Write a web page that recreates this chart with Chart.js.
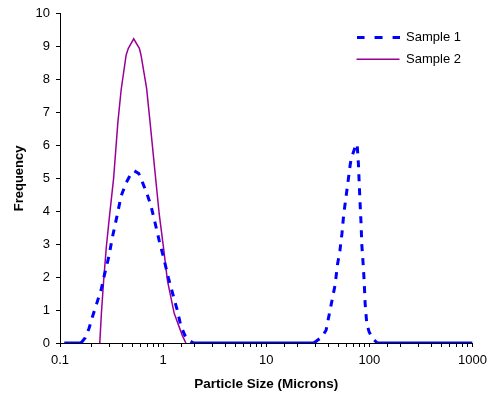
<!DOCTYPE html>
<html>
<head>
<meta charset="utf-8">
<title>Particle Size Distribution</title>
<script src="https://cdn.jsdelivr.net/npm/chart.js@4/dist/chart.umd.min.js"></script>
<style>
    html, body { margin: 0; padding: 0; background: #fff; }
    #wrap { width: 493px; height: 396px; }
</style>
</head>
<body>
<div id="wrap"><canvas id="psd-chart" width="493" height="396"></canvas></div>
<script>
// Sample 1 (dashed blue) - particle size in microns / frequency
const sizes1 = [0.11, 0.13, 0.15, 0.16, 0.175, 0.191, 0.209, 0.228, 0.252, 0.271, 0.298, 0.321,
    0.356, 0.392, 0.438, 0.48, 0.526, 0.58, 0.632, 0.691, 0.762, 0.838, 0.916, 1.02, 1.125,
    1.25, 1.37, 1.48, 1.62, 1.78, 1.95, 2.5, 5, 10, 20, 29, 31.6, 35, 38, 42.5, 46.4, 49.2,
    51.8, 54.2, 56.2, 59.2, 61.4, 65.2, 67.1, 73.8, 76, 78.3, 79.6, 81.3, 83.2, 84.3, 86.9,
    88.9, 90.9, 94.2, 99.3, 106.9, 119.4, 150, 300, 600, 1000];
const freq1 = [0, 0, 0, 0, 0.15, 0.44, 0.85, 1.22, 1.65, 2.1, 2.63, 3.19,
    3.84, 4.47, 4.87, 5.1, 5.23, 5.15, 4.87, 4.57, 4.17, 3.63, 3.11, 2.54, 1.98,
    1.45, 1.0, 0.54, 0.24, 0.09, 0, 0, 0, 0, 0, 0, 0.09, 0.2, 0.39, 1.15, 1.75, 2.41,
    2.81, 3.33, 3.87, 4.42, 4.79, 5.43, 5.63, 6.01, 6.05, 5.43, 4.87, 4.22, 3.56, 3.01, 2.41,
    1.9, 1.2, 0.6, 0.34, 0.14, 0, 0, 0, 0, 0];

// Sample 2 (solid purple)
const sizes2 = [0.243, 0.252, 0.265, 0.281, 0.303, 0.331, 0.364, 0.392, 0.438, 0.46, 0.518,
    0.588, 0.61, 0.691, 0.745, 0.832, 0.851, 0.916, 1.007, 1.1, 1.28, 1.53, 1.66];
const freq2 = [0, 0.9, 1.9, 2.9, 3.9, 5.0, 6.7, 7.7, 8.75, 8.95, 9.24,
    8.95, 8.75, 7.74, 6.74, 5.23, 4.92, 3.92, 2.91, 1.9, 0.9, 0.24, 0];

const xTickValues = [0.1, 1, 10, 100, 1000];
const seriesNames = ['Sample 1', 'Sample 2'];

const FONT = '"Liberation Sans", Arial, sans-serif';
const BLUE = '#0000ff';
const PURPLE = '#990099';

function toPoints(xs, ys) {
    return xs.map((x, i) => ({ x: x, y: ys[i] }));
}

function isDecade(v) {
    return xTickValues.some(t => Math.abs(t - v) < 1e-9);
}

// legend swatch for the dashed series (point-style legend lines ignore borderDash)
function dashedSwatch(color, width, lineWidth, dash) {
    const c = document.createElement('canvas');
    c.width = width;
    c.height = lineWidth;
    const g = c.getContext('2d');
    g.strokeStyle = color;
    g.lineWidth = lineWidth;
    g.setLineDash(dash);
    g.beginPath();
    g.moveTo(0, lineWidth / 2);
    g.lineTo(width, lineWidth / 2);
    g.stroke();
    return c;
}

// Moves the legend into the top-right corner of the plot area
const legendCorner = {
    id: 'legendCorner',
    afterLayout(chart) {
        const lg = chart.legend;
        const area = chart.chartArea;
        if (!lg) return;
        const w = lg.width, h = lg.height;
        lg.left = area.right - 125;
        lg.right = lg.left + w;
        lg.top = area.top + 8;
        lg.bottom = lg.top + h;
    }
};

const canvas = document.getElementById('psd-chart');
new Chart(canvas, {
    type: 'line',
    data: {
        datasets: [
            {
                label: seriesNames[0],
                data: toPoints(sizes1, freq1),
                borderColor: BLUE,
                backgroundColor: BLUE,
                borderWidth: 3,
                borderDash: [7, 7],
                pointRadius: 0,
                pointStyle: dashedSwatch(BLUE, 43, 3, [8, 10]),
                tension: 0,
                fill: false,
                segment: {
                    // flat runs along the axis look solid in the original
                    borderDash: ctx => (ctx.p0.parsed.y === 0 && ctx.p1.parsed.y === 0) ? [] : undefined
                }
            },
            {
                label: seriesNames[1],
                data: toPoints(sizes2, freq2),
                borderColor: PURPLE,
                backgroundColor: PURPLE,
                borderWidth: 1.5,
                pointRadius: 0,
                pointStyle: 'line',
                tension: 0,
                fill: false
            }
        ]
    },
    options: {
        responsive: false,
        animation: false,
        layout: { padding: { top: 12, right: 17, left: 0, bottom: 0 } },
        plugins: {
            legend: {
                position: 'chartArea',
                align: 'start',
                labels: {
                    usePointStyle: true,
                    pointStyleWidth: 43,
                    padding: 9,
                    color: '#000',
                    font: { family: FONT, size: 13 }
                }
            },
            tooltip: { enabled: false }
        },
        scales: {
            x: {
                type: 'logarithmic',
                min: 0.1,
                max: 1000,
                afterFit: scale => { scale.height = 53; },
                border: { display: true, color: '#000', width: 1 },
                grid: { display: true, drawOnChartArea: false, drawTicks: true, tickLength: 4, color: '#000' },
                ticks: {
                    autoSkip: false,
                    maxRotation: 0,
                    padding: 6,
                    color: '#000',
                    font: { family: FONT, size: 13 },
                    callback: function(value) {
                        return isDecade(value) ? String(value) : '';
                    }
                },
                title: {
                    display: true,
                    text: 'Particle Size (Microns)',
                    color: '#000',
                    font: { family: FONT, size: 13.5, weight: 'bold' },
                    padding: { top: 0, bottom: 4 }
                }
            },
            y: {
                type: 'linear',
                min: 0,
                max: 10,
                afterFit: scale => { scale.width = 60; },
                border: { display: true, color: '#000', width: 1 },
                grid: { display: true, drawOnChartArea: false, drawTicks: true, tickLength: 4, color: '#000' },
                ticks: {
                    stepSize: 1,
                    padding: 6,
                    color: '#000',
                    font: { family: FONT, size: 13 }
                },
                title: {
                    display: true,
                    text: 'Frequency',
                    color: '#000',
                    font: { family: FONT, size: 13, weight: 'bold' },
                    padding: { top: 12, bottom: 0 }
                }
            }
        }
    },
    plugins: [legendCorner]
});
</script>
</body>
</html>
